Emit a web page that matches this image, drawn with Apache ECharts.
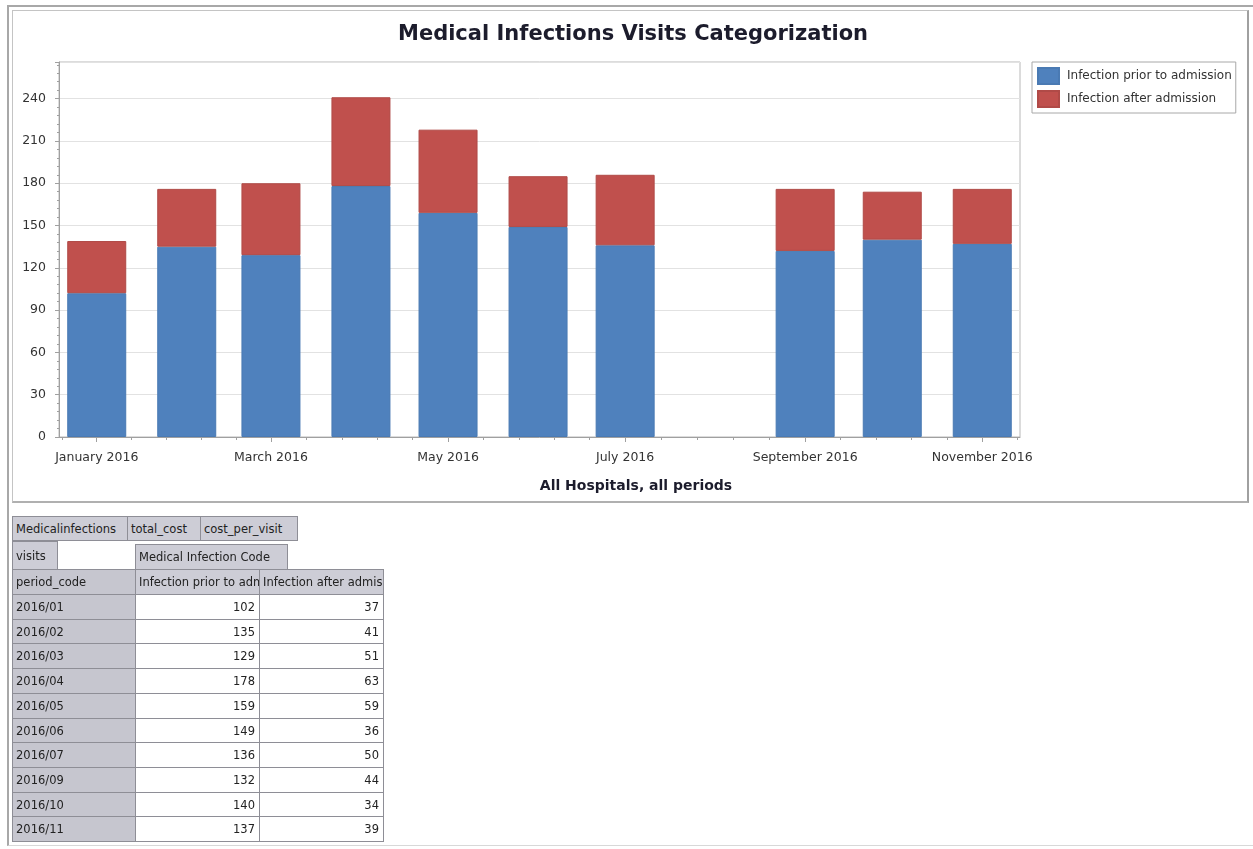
<!DOCTYPE html>
<html>
<head>
<meta charset="utf-8">
<script src="https://cdn.jsdelivr.net/npm/echarts@6/dist/echarts.min.js"></script>
<style>
  html, body { margin: 0; padding: 0; background: #fff; }
  body { width: 1253px; height: 849px; position: relative; overflow: hidden; font-family: "DejaVu Sans", sans-serif; }
  #outer { position: absolute; left: 7px; top: 5px; width: 1246px; height: 841px; border-top: 2px solid #a8a8a8; border-left: 2px solid #a8a8a8; border-bottom: 1px solid #d8d8d8; box-sizing: border-box; }
  #panel { position: absolute; left: 12px; top: 10px; width: 1237px; height: 493px; border: 1px solid #c4c4c4; border-right: 2px solid #a0a0a0; border-bottom: 2px solid #b0b0b0; box-sizing: border-box; }
  #chart { position: absolute; left: 0; top: 0; width: 1253px; height: 849px; }
  .cell { position: absolute; box-sizing: border-box; border: 1px solid #8e8e96; font-size: 11.5px; color: #222; white-space: nowrap; overflow: hidden; padding: 0 3px; display: flex; align-items: center; }
  .gray { background: #cdcdd6; }
  .lab { background: #c6c6cf; }
  .white { background: #fff; justify-content: flex-end; padding-right: 4px; }
</style>
</head>
<body>
<div id="outer"></div>
<div id="panel"></div>
<div id="chart"></div>
<div id="table"></div>
<script>
// ---- data ----
const periods = ['2016-01-01','2016-02-01','2016-03-01','2016-04-01','2016-05-01','2016-06-01','2016-07-01','2016-09-01','2016-10-01','2016-11-01'];
const periodCodes = ['2016/01','2016/02','2016/03','2016/04','2016/05','2016/06','2016/07','2016/09','2016/10','2016/11'];
const priorToAdmission = [102, 135, 129, 178, 159, 149, 136, 132, 140, 137];
const afterAdmission = [37, 41, 51, 63, 59, 36, 50, 44, 34, 39];
const seriesNames = ['Infection prior to admission', 'Infection after admission'];
const xLabelDates = ['2016-01-01','2016-03-01','2016-05-01','2016-07-01','2016-09-01','2016-11-01'];
const monthNames = ['January','February','March','April','May','June','July','August','September','October','November','December'];
const chartTitle = 'Medical Infections Visits Categorization';
const xAxisTitle = 'All Hospitals, all periods';

const toTs = s => { const p = s.split('-').map(Number); return new Date(p[0], p[1]-1, p[2]).getTime(); };
const DAY = 86400000;
const xMin = toTs('2016-01-01') - 13 * DAY;
const xMax = toTs('2016-11-01') + 13 * DAY;
const labelTs = xLabelDates.map(toTs);
// minor ticks: five per two-month span
const minorTs = [];
minorTs.push(labelTs[0] - (labelTs[1]-labelTs[0]) / 5);
for (let i = 0; i < labelTs.length - 1; i++) {
  for (let k = 1; k < 5; k++) minorTs.push(labelTs[i] + (labelTs[i+1]-labelTs[i]) * k / 5);
}
minorTs.push(labelTs[labelTs.length-1] + (labelTs[1]-labelTs[0]) / 5);

const chart = echarts.init(document.getElementById('chart'), null, { renderer: 'canvas' });
const txt = '#333';
const option = {
  animation: false,
  backgroundColor: 'transparent',
  title: [
    { text: chartTitle, left: 628, top: 19, textAlign: 'center',
      textStyle: { fontFamily: 'DejaVu Sans', fontWeight: 'bold', fontSize: 21, color: '#1c1c2c' } },
    { text: xAxisTitle, left: 631, top: 474, textAlign: 'center',
      textStyle: { fontFamily: 'DejaVu Sans', fontWeight: 'bold', fontSize: 14, color: '#1c1c2c' } }
  ],
  legend: {
    orient: 'vertical', left: 1032, top: 62,
    padding: [5, 4, 5, 5], itemGap: 5, itemWidth: 21, itemHeight: 16,
    icon: 'rect', borderColor: '#a8a8a8', borderWidth: 1,
    textStyle: { fontFamily: 'DejaVu Sans', fontSize: 12, color: '#333', padding: [0, 0, 0, 3] },
    data: seriesNames
  },
  grid: { left: 59, top: 62, right: 233, bottom: 412, show: true, borderColor: '#b8b8b8', borderWidth: 1 },
  xAxis: [{
    type: 'value', min: xMin, max: xMax, scale: true,
    axisLine: { show: true, onZero: false, lineStyle: { color: '#a0a0a0' } },
    axisTick: { show: true, length: 5, lineStyle: { color: '#a0a0a0' }, customValues: labelTs },
    axisLabel: { customValues: labelTs, margin: 14, color: txt, fontFamily: 'DejaVu Sans', fontSize: 12.5,
      formatter: v => { const d = new Date(v); return monthNames[d.getMonth()] + ' ' + d.getFullYear(); } },
    splitLine: { show: false }
  }, {
    type: 'value', min: xMin, max: xMax, scale: true, position: 'bottom',
    axisLine: { show: false, onZero: false },
    axisTick: { show: true, length: 3, lineStyle: { color: '#a0a0a0' }, customValues: minorTs },
    axisLabel: { show: false, customValues: minorTs },
    splitLine: { show: false }
  }],
  yAxis: {
    type: 'value', min: 0, max: 266, interval: 30,
    axisLine: { show: true, lineStyle: { color: '#a0a0a0' } },
    axisTick: { show: true, length: 4, lineStyle: { color: '#a0a0a0' } },
    minorTick: { show: true, splitNumber: 5, length: 2, lineStyle: { color: '#a0a0a0' } },
    axisLabel: { color: txt, fontFamily: 'DejaVu Sans', fontSize: 12.5, margin: 13, showMaxLabel: false },
    splitLine: { show: true, lineStyle: { color: '#e2e2e2' } }
  },
  series: [
    { name: seriesNames[0], type: 'bar', stack: 'v', barWidth: 59,
      dimensions: ['visits', 'period'], encode: { x: 1, y: 0 },
      itemStyle: { color: '#4f81bd', borderColor: '#4a7ab3', borderWidth: 1 },
      data: periods.map((p, i) => [priorToAdmission[i], toTs(p)]) },
    { name: seriesNames[1], type: 'bar', stack: 'v', barWidth: 59,
      dimensions: ['visits', 'period'], encode: { x: 1, y: 0 },
      itemStyle: { color: '#c0504d', borderColor: '#b04a47', borderWidth: 1 },
      data: periods.map((p, i) => [afterAdmission[i], toTs(p)]) }
  ]
};
chart.setOption(option);

// ---- pivot table ----
const tabRow = ['Medicalinfections', 'total_cost', 'cost_per_visit'];
const tabX = [12, 127, 200, 297];
const tbl = document.getElementById('table');
function cell(text, x, y, w, h, cls) {
  const d = document.createElement('div');
  d.className = 'cell ' + cls;
  d.style.left = x + 'px'; d.style.top = y + 'px';
  d.style.width = w + 'px'; d.style.height = h + 'px';
  d.textContent = text;
  tbl.appendChild(d);
}
tabRow.forEach((t, i) => cell(t, tabX[i], 516, tabX[i+1] - tabX[i] + 1, 25, 'gray'));
cell('visits', 12, 541, 46, 29, 'gray');
cell('Medical Infection Code', 135, 544, 153, 26, 'gray');
cell('period_code', 12, 569, 124, 26, 'lab');
cell(seriesNames[0], 135, 569, 125, 26, 'gray');
cell(seriesNames[1], 259, 569, 125, 26, 'gray');
const rowH = 24.7;
periodCodes.forEach((pc, i) => {
  const y = Math.round(594 + i * rowH);
  const h = Math.round(594 + (i + 1) * rowH) - y + 1;
  cell(pc, 12, y, 124, h, 'lab');
  cell(String(priorToAdmission[i]), 135, y, 125, h, 'white');
  cell(String(afterAdmission[i]), 259, y, 125, h, 'white');
});
</script>
</body>
</html>
